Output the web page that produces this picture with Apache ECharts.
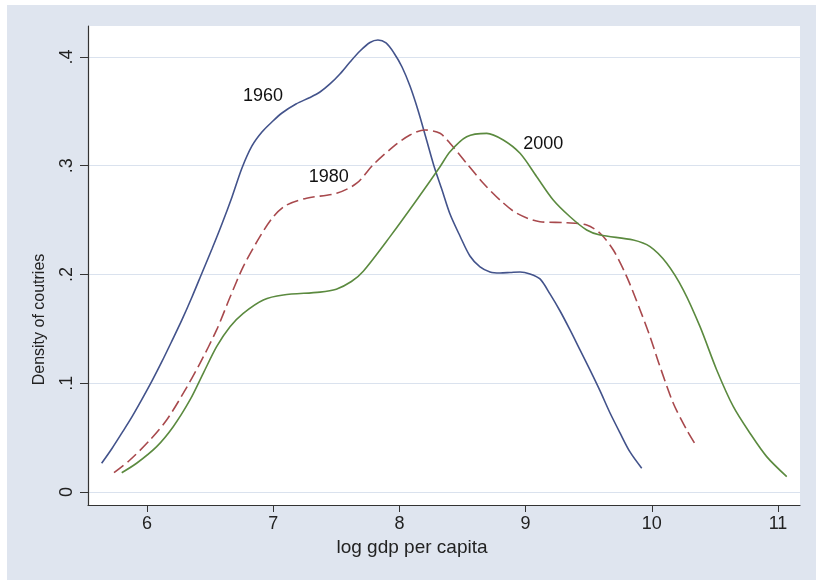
<!DOCTYPE html>
<html>
<head>
<meta charset="utf-8">
<script src="https://cdn.jsdelivr.net/npm/echarts@6/dist/echarts.min.js"></script>
<style>
  html, body { margin: 0; padding: 0; background: #ffffff; width: 816px; height: 580px; overflow: hidden; }
  #chart { position: absolute; left: 7px; top: 5px; width: 809px; height: 575px; background: #dfe5ef; }
</style>
</head>
<body>
<div id="chart"></div>
<script>
// ---- data ----
const xTicks = [6, 7, 8, 9, 10, 11];
const yTicks = [0, 0.1, 0.2, 0.3, 0.4];

const x1960 = [5.641, 5.723, 5.802, 5.881, 5.960, 6.040, 6.119, 6.198, 6.277, 6.357, 6.436, 6.515, 6.594, 6.674, 6.753, 6.832, 6.911, 6.990, 7.070, 7.181, 7.292, 7.371, 7.450, 7.529, 7.609, 7.688, 7.767, 7.830, 7.894, 7.957, 8.021, 8.084, 8.147, 8.211, 8.274, 8.338, 8.401, 8.480, 8.559, 8.639, 8.718, 8.797, 8.876, 8.956, 9.035, 9.114, 9.193, 9.273, 9.352, 9.431, 9.510, 9.590, 9.669, 9.748, 9.827, 9.920];
const y1960 = [0.0264, 0.0400, 0.0543, 0.0690, 0.0851, 0.1021, 0.1200, 0.1389, 0.1582, 0.1793, 0.2014, 0.2234, 0.2464, 0.2713, 0.2979, 0.3182, 0.3310, 0.3402, 0.3485, 0.3568, 0.3628, 0.3678, 0.3752, 0.3844, 0.3954, 0.4055, 0.4133, 0.4156, 0.4129, 0.4037, 0.3908, 0.3733, 0.3513, 0.3255, 0.2998, 0.2777, 0.2556, 0.2354, 0.2170, 0.2069, 0.2023, 0.2014, 0.2018, 0.2023, 0.2005, 0.1959, 0.1821, 0.1664, 0.1490, 0.1306, 0.1122, 0.0929, 0.0726, 0.0543, 0.0368, 0.0218];

const x1980 = [5.739, 5.865, 6.024, 6.156, 6.288, 6.420, 6.552, 6.658, 6.763, 6.895, 7.001, 7.107, 7.265, 7.503, 7.662, 7.793, 7.952, 8.084, 8.203, 8.322, 8.401, 8.533, 8.665, 8.797, 8.930, 9.114, 9.326, 9.484, 9.590, 9.695, 9.801, 9.907, 9.986, 10.065, 10.170, 10.277, 10.356];
const y1980 = [0.0177, 0.0294, 0.0478, 0.0662, 0.0908, 0.1183, 0.1490, 0.1790, 0.2072, 0.2348, 0.2531, 0.2639, 0.2701, 0.2747, 0.2839, 0.3010, 0.3175, 0.3283, 0.3329, 0.3298, 0.3206, 0.3022, 0.2839, 0.2685, 0.2563, 0.2485, 0.2476, 0.2455, 0.2379, 0.2225, 0.1980, 0.1674, 0.1428, 0.1152, 0.0816, 0.0570, 0.0417];

const x2000 = [5.800, 5.918, 6.077, 6.208, 6.341, 6.446, 6.552, 6.658, 6.763, 6.922, 7.080, 7.371, 7.500, 7.620, 7.714, 7.926, 8.137, 8.322, 8.401, 8.533, 8.692, 8.823, 8.956, 9.088, 9.219, 9.352, 9.484, 9.590, 9.853, 9.986, 10.118, 10.250, 10.382, 10.514, 10.646, 10.778, 10.910, 11.069];
const y2000 = [0.0177, 0.0264, 0.0417, 0.0600, 0.0846, 0.1091, 0.1336, 0.1520, 0.1643, 0.1766, 0.1811, 0.1838, 0.1865, 0.1935, 0.2030, 0.2348, 0.2685, 0.2991, 0.3129, 0.3267, 0.3298, 0.3237, 0.3114, 0.2899, 0.2685, 0.2531, 0.2409, 0.2363, 0.2317, 0.2256, 0.2103, 0.1857, 0.1520, 0.1122, 0.0784, 0.0540, 0.0325, 0.0141];

const seriesNames = ['1960', '1980', '2000'];
const labelPos = [[6.92, 0.364], [7.44, 0.290], [9.14, 0.320]];

// ---- build ----
const zip = (xs, ys) => xs.map((x, i) => [x, ys[i]]);
const FONT = "'Liberation Sans', Arial, sans-serif";
const colors = ['#43538b', '#a8494d', '#5b8a3f'];
const dataSets = [zip(x1960, y1960), zip(x1980, y1980), zip(x2000, y2000)];

const chart = echarts.init(document.getElementById('chart'), null, { renderer: 'canvas' });

const series = dataSets.map((d, i) => ({
  type: 'line',
  name: seriesNames[i],
  data: d,
  showSymbol: false,
  smooth: 0.3,
  lineStyle: { color: colors[i], width: 1.6, type: i === 1 ? [12, 5] : 'solid' },
  markPoint: {
    symbol: 'circle',
    symbolSize: 1,
    itemStyle: { color: 'rgba(0,0,0,0)' },
    label: { show: true, position: 'inside', formatter: seriesNames[i], color: '#111', fontSize: 18, fontFamily: FONT },
    data: [{ coord: labelPos[i] }]
  }
}));

chart.setOption({
  animation: false,
  grid: { left: 81, top: 21, right: 16, bottom: 75, show: true, backgroundColor: '#ffffff', borderWidth: 0 },
  xAxis: {
    type: 'value',
    min: 5.533, max: 11.174,
    name: 'log gdp per capita',
    nameLocation: 'middle',
    nameGap: 33,
    nameTextStyle: { fontSize: 19, color: '#222', fontFamily: FONT, padding: [0, 64, 0, 0] },
    axisLine: { show: true, onZero: false, lineStyle: { color: '#333', width: 1.2 } },
    axisTick: { show: true, length: 7, customValues: xTicks, lineStyle: { color: '#333' } },
    axisLabel: { customValues: xTicks, margin: 10, fontSize: 18, color: '#222', fontFamily: FONT },
    splitLine: { show: false }
  },
  yAxis: {
    type: 'value',
    min: -0.012, max: 0.4285,
    name: 'Density of coutries',
    nameLocation: 'middle',
    nameGap: 40,
    nameTextStyle: { fontSize: 16, color: '#222', fontFamily: FONT, padding: [0, 108, 0, 0] },
    axisLine: { show: true, onZero: false, lineStyle: { color: '#333', width: 1.2 } },
    axisTick: { show: true, length: 8, customValues: yTicks, lineStyle: { color: '#333' } },
    axisLabel: {
      customValues: yTicks, rotate: 90, margin: 12, fontSize: 18, color: '#222', fontFamily: FONT,
      formatter: v => (Math.abs(v) < 1e-9 ? '0' : v.toFixed(1).replace(/^0\./, '.'))
    },
    splitLine: { show: true, lineStyle: { color: '#dae2ee', width: 1 } }
  },
  series: series
});
</script>
</body>
</html>
